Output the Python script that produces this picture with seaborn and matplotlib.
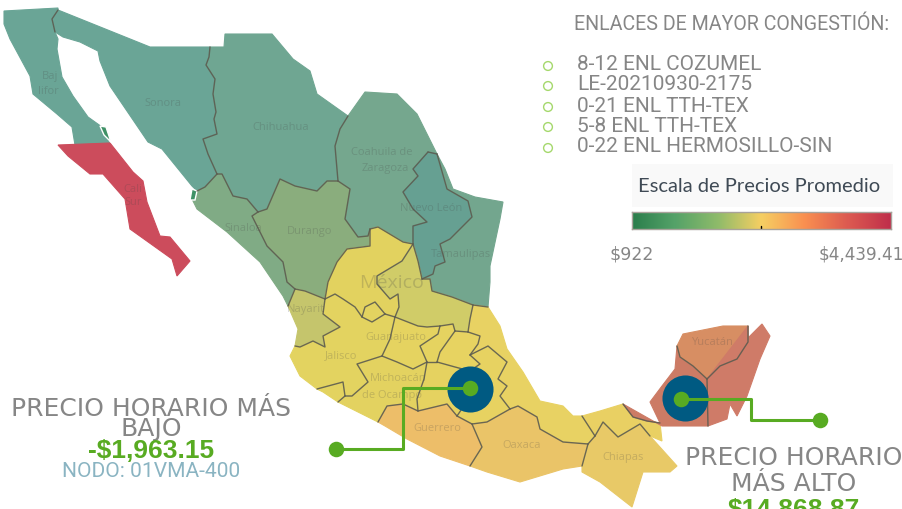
import numpy as np
import pandas as pd
import matplotlib.pyplot as plt
from matplotlib.colors import LinearSegmentedColormap
from matplotlib.patches import Rectangle
import seaborn as sns

# map geometry is traced from the picture, in image pixels
# shared borders first, the states get built from them further down
BC_SON = [(58, 11), (52, 20), (55, 33)]
SON_CHI = [(210, 48), (209, 58), (206, 66), (215, 80), (213, 95), (216, 113), (214, 120), (217, 135), (203, 140), (208, 155), (217, 175)]
SON_SIN = [(217, 175), (205, 188), (197, 192)]
CHI_SIN = [(217, 175), (222, 175), (227, 185), (233, 197), (247, 200), (258, 213)]
CHI_DUR = [(258, 213), (267, 210), (280, 180), (295, 187), (317, 192), (327, 182), (338, 182)]
CHI_COA = [(338, 182), (335, 147), (340, 130), (348, 117)]
COA_DUR = [(338, 182), (350, 190), (345, 220), (358, 238), (368, 237), (370, 230)]
DUR_SIN = [(258, 213), (252, 217), (267, 247), (283, 263), (287, 283), (295, 290)]
DUR_ZAC = [(370, 230), (370, 247), (347, 250), (337, 263), (328, 283), (325, 300)]
DUR_NAY = [(295, 290), (305, 292), (325, 300)]
SIN_NAY = [(295, 290), (288, 307)]
COA_ZAC = [(370, 230), (378, 228), (403, 243), (413, 245)]
COA_NL = [(413, 245), (413, 227), (427, 223), (413, 210), (403, 193), (418, 177), (413, 170), (428, 153)]
NL_COA = [(437, 155), (428, 153)]
TAM_NL = [(437, 155), (447, 190), (468, 202), (472, 218), (450, 240), (440, 245), (445, 263), (435, 267), (433, 275), (422, 280)]
NL_SLP = [(413, 245), (418, 262), (422, 280)]
TAM_SLP = [(422, 280), (430, 280), (432, 292), (452, 298), (473, 306)]
TAM_VER = [(473, 306), (488, 308)]
SLP_ZAC = [(413, 245), (402, 262), (377, 277), (377, 285), (390, 300), (398, 295), (399, 308), (395, 318)]
ZAC_AGS = [(385, 315), (375, 303), (365, 308), (362, 318)]
ZAC_JAL_E = [(395, 318), (385, 315)]
ZAC_JAL_W = [(362, 318), (355, 308), (343, 300), (335, 295), (325, 300)]
AGS_JAL = [(385, 315), (372, 323), (362, 318)]
NAY_JAL = [(295, 347), (300, 348), (313, 342), (325, 348), (323, 337), (340, 328), (323, 315), (325, 300)]
JAL_GTO = [(395, 318), (390, 340), (382, 357)]
JAL_MIC = [(382, 357), (357, 365), (368, 383), (352, 397), (345, 397)]
JAL_COL = [(345, 397), (343, 383), (317, 390)]
COL_MIC = [(345, 397), (338, 403)]
SLP_VER = [(473, 306), (470, 320), (468, 333)]
SLP_HGO = [(468, 333), (455, 332)]
SLP_QRO = [(455, 332), (453, 325), (440, 327)]
SLP_GTO = [(440, 327), (427, 328), (418, 327), (395, 318)]
HGO_VER = [(468, 333), (480, 337), (478, 345), (470, 356)]
VER_PUE = [(470, 356), (488, 347), (507, 363), (498, 380), (507, 387), (500, 397), (510, 410)]
HGO_PUE = [(470, 356), (480, 365), (470, 372)]
HGO_QRO = [(455, 332), (440, 353), (437, 363)]
HGO_MEX = [(437, 363), (455, 368), (470, 372)]
QRO_GTO = [(440, 327), (438, 335), (420, 347), (427, 363)]
QRO_MEX = [(427, 363), (437, 363)]
GTO_MIC = [(427, 363), (413, 370), (397, 363), (382, 357)]
MIC_GRO = [(378, 423), (387, 407), (403, 405), (418, 412)]
MIC_MEX = [(418, 412), (417, 400), (424, 380), (427, 363)]
PUE_MEX = [(470, 372), (472, 395), (457, 417)]
GRO_MEX = [(457, 417), (447, 405), (418, 412)]
PUE_GRO = [(457, 417), (472, 425)]
PUE_OAX = [(472, 425), (487, 423), (510, 410)]
GRO_OAX = [(472, 425), (482, 448), (470, 467)]
VER_OAX = [(510, 410), (518, 407), (537, 418), (540, 430), (563, 443), (588, 445)]
OAX_CHS = [(588, 445), (582, 467)]
VER_TAB = [(582, 417), (595, 437)]
VER_CHS = [(595, 437), (588, 445)]
CHS_TAB = [(595, 437), (603, 423), (618, 438), (640, 425), (650, 437)]
TAB_CAM = [(660, 424), (647, 422), (633, 418), (623, 405)]
CAM_YUC = [(677, 347), (680, 358), (693, 367), (707, 380)]
CAM_QR = [(707, 380), (708, 427)]
YUC_QR = [(748, 327), (748, 343), (737, 360), (720, 367), (707, 380)]

BORDERS = [BC_SON, SON_CHI, SON_SIN, CHI_SIN, CHI_DUR, CHI_COA, COA_DUR, DUR_SIN, DUR_ZAC, DUR_NAY, SIN_NAY,
           COA_ZAC, COA_NL, NL_COA, TAM_NL, NL_SLP, TAM_SLP, TAM_VER, SLP_ZAC, ZAC_AGS, ZAC_JAL_E, ZAC_JAL_W,
           AGS_JAL, NAY_JAL, JAL_GTO, JAL_MIC, JAL_COL, COL_MIC, SLP_VER, SLP_HGO, SLP_QRO, SLP_GTO, HGO_VER,
           VER_PUE, HGO_PUE, HGO_QRO, HGO_MEX, QRO_GTO, QRO_MEX, GTO_MIC, MIC_GRO, MIC_MEX, PUE_MEX, GRO_MEX,
           PUE_GRO, PUE_OAX, GRO_OAX, VER_OAX, OAX_CHS, VER_TAB, VER_CHS, CHS_TAB, TAB_CAM, CAM_YUC, CAM_QR, YUC_QR]

# states as (outline, fill)
STATES = [
    ([(4, 12), (58, 9)] + BC_SON + [(58, 40), (57, 50), (62, 78), (73, 97), (88, 118), (102, 128), (110, 145), (75, 146), (72, 128), (57, 115), (33, 95), (30, 77), (10, 40), (4, 25)], "#6aa596"),
    ([(58, 146), (110, 144), (133, 173), (143, 182), (147, 203), (160, 237), (170, 238), (190, 262), (177, 277), (172, 260), (130, 230), (125, 200), (103, 175), (90, 175), (68, 157)], "#cc4c5c"),
    (BC_SON + [(63, 38), (80, 43), (98, 52), (100, 62), (110, 87), (148, 143), (162, 150), (192, 187)] + SON_SIN[::-1] + SON_CHI[::-1] + [(150, 48)], "#6aa596"),
    (SON_CHI + CHI_SIN + CHI_DUR + CHI_COA + [(317, 95), (310, 72), (293, 60), (272, 35), (225, 35), (224, 48)], "#6fa692"),
    (CHI_COA[::-1] + COA_DUR + COA_ZAC[::-1] + COA_NL + NL_COA[::-1] + [(417, 115), (397, 95), (365, 93)], "#75a78e"),
    (NL_COA[::-1] + TAM_NL + NL_SLP[::-1] + COA_NL, "#66a092"),
    (TAM_NL[::-1] + [(445, 170), (453, 190), (475, 198), (503, 203), (500, 220), (490, 267), (490, 283)] + TAM_VER[::-1] + TAM_SLP[::-1], "#73a68e"),
    (SON_SIN[::-1] + CHI_SIN + DUR_SIN + SIN_NAY + [(283, 297), (260, 263), (227, 233), (197, 210), (192, 200)], "#80ab85"),
    (CHI_DUR + COA_DUR + DUR_ZAC + DUR_NAY[::-1] + DUR_SIN[::-1], "#8aad7d"),
    (DUR_ZAC[::-1] + COA_ZAC + SLP_ZAC + ZAC_JAL_E + ZAC_AGS + ZAC_JAL_W, "#e2d25f"),
    (ZAC_AGS + AGS_JAL[::-1], "#e3d360"),
    (SLP_ZAC[::-1] + NL_SLP + TAM_SLP + SLP_VER + SLP_HGO + SLP_QRO + SLP_GTO, "#d0cc68"),
    (DUR_NAY + NAY_JAL[::-1] + [(298, 330)] + SIN_NAY[::-1], "#c5c56c"),
    (ZAC_JAL_W[::-1] + AGS_JAL[::-1] + ZAC_JAL_E[::-1] + JAL_GTO + JAL_MIC + JAL_COL + [(300, 377), (290, 357)] + NAY_JAL, "#e3d360"),
    (JAL_COL + [(323, 393)] + COL_MIC[::-1], "#e3d360"),
    (JAL_MIC + COL_MIC + MIC_GRO + MIC_MEX + GTO_MIC, "#e3d260"),
    (SLP_GTO[::-1] + QRO_GTO + GTO_MIC + JAL_GTO[::-1], "#e5d360"),
    (SLP_QRO + QRO_GTO + QRO_MEX + HGO_QRO[::-1], "#e5d360"),
    (SLP_HGO[::-1] + HGO_VER + HGO_PUE + HGO_MEX[::-1] + HGO_QRO[::-1], "#e7d361"),
    (QRO_MEX + HGO_MEX + PUE_MEX + GRO_MEX + MIC_MEX, "#e5d260"),
    (VER_PUE + PUE_OAX[::-1] + PUE_GRO[::-1] + PUE_MEX[::-1] + HGO_PUE[::-1], "#e7d261"),
    (SLP_VER[::-1] + TAM_VER + [(500, 327), (507, 350), (523, 373), (540, 402), (563, 407), (573, 417)] + VER_TAB + VER_CHS + VER_OAX[::-1] + VER_PUE[::-1] + HGO_VER[::-1], "#e8d263"),
    (MIC_GRO + GRO_MEX[::-1] + PUE_GRO + GRO_OAX + [(440, 457), (407, 440), (385, 427)], "#edbe69"),
    (GRO_OAX[::-1] + PUE_OAX + VER_OAX + OAX_CHS + [(563, 470), (520, 483), (487, 473)], "#eac468"),
    (OAX_CHS[::-1] + VER_CHS[::-1] + CHS_TAB + [(677, 467), (670, 473), (643, 473), (632, 508), (600, 483), (582, 473)], "#e8c967"),
    (VER_TAB + CHS_TAB + [(662, 442)] + TAB_CAM + [(600, 412)], "#e9d063"),
    (TAB_CAM[::-1] + [(650, 403), (662, 387), (675, 370)] + CAM_YUC + CAM_QR + [(662, 427)], "#cc7b65"),
    ([(677, 347), (683, 335), (723, 327)] + YUC_QR + CAM_YUC[::-1], "#d78e63"),
    (YUC_QR[::-1] + CAM_QR + [(727, 420), (730, 405), (737, 417), (747, 397), (753, 380), (760, 360), (770, 337), (762, 325)], "#cf7b68"),
]
ISLES = [[(100, 127), (106, 128), (111, 143), (104, 136)], [(192, 190), (197, 192), (195, 201), (190, 201)]]

# the Baja names are cut off by the coast in the picture, so only the visible part is here
STATE_NAMES = ["Baj", "lifor", "Sonora", "Chihuahua", "Coahuila de", "Zaragoza", "Nuevo León", "Tamaulipas",
               "Durango", "Sinaloa", "Nayarit", "Jalisco", "Guanajuato", "Michoacán", "de Ocampo", "Guerrero",
               "Oaxaca", "Chiapas", "Yucatán", "Cali", "Sur", "México"]
STATE_X = [50, 48, 163, 281, 382, 385, 431, 461, 310, 243, 306, 341, 396, 398, 392, 437, 522, 623, 712, 133, 133, 392]
STATE_Y = [76, 92, 104, 127, 153, 169, 209, 255, 232, 229, 310, 356, 338, 379, 396, 429, 446, 458, 343, 190, 203, 283]

LINKS = ["8-12 ENL COZUMEL", "LE-20210930-2175", "0-21 ENL TTH-TEX", "5-8 ENL TTH-TEX", "0-22 ENL HERMOSILLO-SIN"]
LINK_X = [548, 548, 548, 548, 548]
LINK_Y = [67, 87, 108, 128, 149]

HUB_X = [470, 685]
HUB_Y = [390, 399]
LOW_X = [470, 403, 403, 336]
LOW_Y = [389, 389, 450, 450]
HIGH_X = [681, 751, 751, 820]
HIGH_Y = [400, 400, 421, 421]

PRICE_MIN = 922
PRICE_MAX = 4439.41
SCALE_COLORS = ["#2a7d4b", "#55a268", "#8fbb69", "#f5ce62", "#f98f50", "#dc5a50", "#bf2e4a"]

GREY = "#868686"
GREEN = "#58ab22"

sns.set_theme(style="white")
plt.rcParams["font.family"] = ["Open Sans", "DejaVu Sans"]

fig = plt.figure(figsize=(9.03, 5.10), dpi=100)
ax = fig.add_axes([0, 0, 1, 1])

for outline, color in STATES:
    xs, ys = zip(*outline)
    ax.fill(xs, ys, facecolor=color, edgecolor=color, linewidth=0.8, zorder=1)
for isle in ISLES:
    xs, ys = zip(*isle)
    ax.fill(xs, ys, facecolor="#3f9166", zorder=1.5)

rows = [(i, x, y) for i, line in enumerate(BORDERS) for x, y in line]
df = pd.DataFrame(rows, columns=["border", "x", "y"])
sns.lineplot(data=df, x="x", y="y", units="border", estimator=None, sort=False,
             color="#5c5c50", linewidth=1.0, alpha=0.9, ax=ax, legend=False, zorder=2)

for name, x, y in zip(STATE_NAMES, STATE_X, STATE_Y):
    big = name == "México"
    ax.text(x, y, name, ha="center", va="center", fontsize=14 if big else 8, color="#444444", alpha=0.22, zorder=3)

# bubbles and the two connectors
sns.scatterplot(x=HUB_X, y=HUB_Y, s=1100, color="#005a82", linewidth=0, ax=ax, zorder=4)
sns.lineplot(x=LOW_X, y=LOW_Y, sort=False, estimator=None, color=GREEN, linewidth=2.2, ax=ax, zorder=5)
sns.lineplot(x=HIGH_X, y=HIGH_Y, sort=False, estimator=None, color=GREEN, linewidth=2.2, ax=ax, zorder=5)
sns.scatterplot(x=[LOW_X[0], HIGH_X[0]], y=[LOW_Y[0], HIGH_Y[0]], s=125, color=GREEN, linewidth=0, ax=ax, zorder=6)
sns.scatterplot(x=[LOW_X[-1], HIGH_X[-1]], y=[LOW_Y[-1], HIGH_Y[-1]], s=125, color=GREEN, linewidth=0, ax=ax, zorder=6)

# congestion list
sns.scatterplot(x=LINK_X, y=LINK_Y, s=40, facecolor="none", edgecolor="#a5d86c", linewidth=1.0, ax=ax, zorder=4)
ax.text(574, 24, "ENLACES DE MAYOR CONGESTIÓN:", fontsize=14.1, color=GREY, family="Roboto", va="center")
for name, y in zip(LINKS, [64, 85, 106, 126, 147]):
    ax.text(577, y, name, fontsize=15, color=GREY, family="Roboto", va="center")

# text blocks
head = dict(ha="center", va="center", fontsize=18, color=GREY, family="DejaVu Sans")
ax.text(151, 409, "PRECIO HORARIO MÁS", **head)
ax.text(151, 429, "BAJO", **head)
ax.text(151, 451, "-$1,963.15", ha="center", va="center", fontsize=19, fontweight="bold", color=GREEN, family="Liberation Sans")
ax.text(151, 472, "NODO: 01VMA-400", ha="center", va="center", fontsize=15.1, color="#8ab4c2", family="Roboto")
ax.text(794, 458, "PRECIO HORARIO", **head)
ax.text(794, 484, "MÁS ALTO", **head)
ax.text(794, 510, "$14,868.87", ha="center", va="center", fontsize=19, fontweight="bold", color=GREEN, family="Liberation Sans")

# price scale
ax.add_patch(Rectangle((632, 165), 261, 43, facecolor="#f9f9f9", edgecolor="none", zorder=1))
ax.text(638, 187, "Escala de Precios Promedio", fontsize=14.5, color="#3f4a55", family="Lato", va="center")
ax.text(632, 254, "$922", ha="center", va="center", fontsize=12.5, color=GREY, family="DejaVu Sans")
ax.text(904, 254, "$4,439.41", ha="right", va="center", fontsize=12.2, color=GREY, family="DejaVu Sans")

ax.set_xlim(0, 903)
ax.set_ylim(510, 0)
ax.set_axis_off()

cax = fig.add_axes([632 / 903, 1 - 230 / 510, 259 / 903, 17 / 510])
cmap = LinearSegmentedColormap.from_list("precio", SCALE_COLORS)
gradient = np.linspace(PRICE_MIN, PRICE_MAX, 256).reshape(1, -1)
sns.heatmap(gradient, cmap=cmap, vmin=PRICE_MIN, vmax=PRICE_MAX, cbar=False, xticklabels=False, yticklabels=False, ax=cax)
for side in cax.spines.values():
    side.set_visible(True)
    side.set_color("#a8a29a")
    side.set_linewidth(1.0)
cax.plot([128, 128], [0.8, 1.0], color="black", linewidth=1)

plt.savefig("out.png", dpi=100)
